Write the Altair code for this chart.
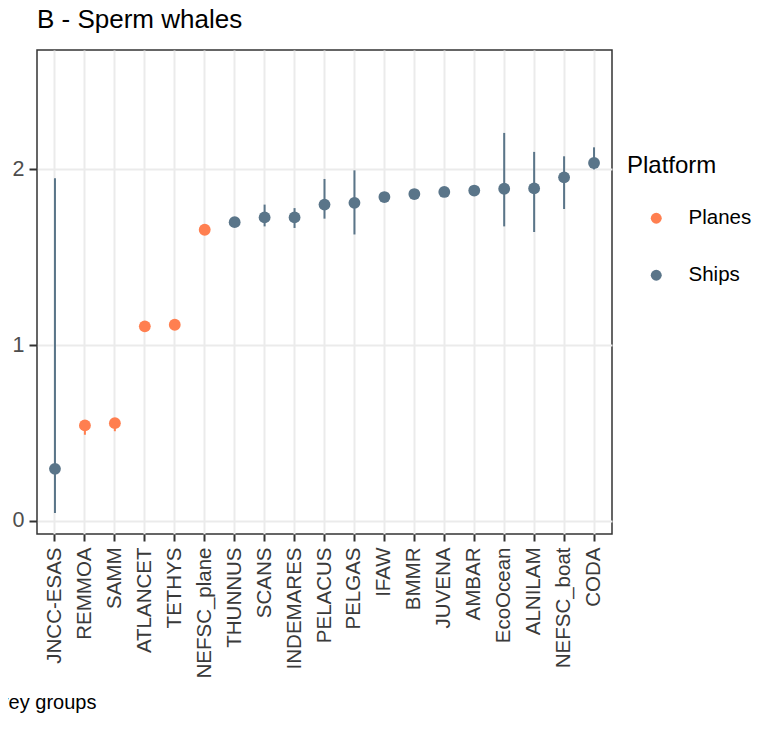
import altair as alt
import pandas as pd

groups = ["JNCC-ESAS", "REMMOA", "SAMM", "ATLANCET", "TETHYS", "NEFSC_plane",
          "THUNNUS", "SCANS", "INDEMARES", "PELACUS", "PELGAS", "IFAW", "BMMR",
          "JUVENA", "AMBAR", "EcoOcean", "ALNILAM", "NEFSC_boat", "CODA"]
platform = ["Ships", "Planes", "Planes", "Planes", "Planes", "Planes",
            "Ships", "Ships", "Ships", "Ships", "Ships", "Ships", "Ships",
            "Ships", "Ships", "Ships", "Ships", "Ships", "Ships"]
estimate = [0.296, 0.543, 0.556, 1.107, 1.116, 1.657,
            1.700, 1.727, 1.727, 1.800, 1.810, 1.843, 1.860,
            1.872, 1.880, 1.890, 1.892, 1.955, 2.037]
lower = [0.045, 0.490, 0.510, 1.095, 1.105, 1.645,
         1.690, 1.676, 1.667, 1.720, 1.630, 1.835, 1.850,
         1.862, 1.870, 1.676, 1.644, 1.775, 2.000]
upper = [1.950, 0.560, 0.575, 1.120, 1.128, 1.668,
         1.710, 1.800, 1.780, 1.946, 1.995, 1.852, 1.870,
         1.882, 1.890, 2.208, 2.100, 2.075, 2.126]

df = pd.DataFrame({"group": groups, "Platform": platform,
                   "estimate": estimate, "lower": lower, "upper": upper})

color = alt.Color(
    "Platform:N",
    scale=alt.Scale(domain=["Planes", "Ships"], range=["#FF7F50", "#5A7589"]),
    legend=alt.Legend(
        title="Platform", orient="none", legendX=590, legendY=104,
        titleFontSize=24, titleFontWeight="normal", titleColor="#000000",
        labelFontSize=20.5, labelColor="#000000",
        symbolType="circle", symbolSize=120, symbolStrokeWidth=0,
        symbolOffset=19, labelOffset=22, rowPadding=36, titlePadding=30,
    ),
)

x = alt.X(
    "group:N", sort=groups,
    scale=alt.Scale(paddingInner=0, paddingOuter=0.1),
    axis=alt.Axis(
        title="Survey groups", labelAngle=-90, labelAlign="right",
        labelBaseline="middle", labelFontSize=20.5, labelColor="#3A3A3A",
        labelPadding=6, tickSize=7, tickColor="#333333", tickWidth=2,
        grid=True, gridColor="#EBEBEB", gridWidth=2, domain=False,
        titleFontSize=20, titleFontWeight="normal", titleColor="#000000",
        titleX=-70, titleY=174, titleAlign="left", titleBaseline="alphabetic",
        titleAnchor="start",
    ),
)

y_scale = alt.Scale(domain=[-0.075, 2.68], nice=False, zero=False)
y_axis = alt.Axis(
    title=None, values=[0, 1, 2], labelFontSize=21.5, labelColor="#4D4D4D",
    labelPadding=5, tickSize=8, tickColor="#333333", tickWidth=2,
    grid=True, gridColor="#EBEBEB", gridWidth=2, domain=False,
)

base = alt.Chart(df)

rules = base.mark_rule(strokeWidth=2).encode(
    x=x,
    y=alt.Y("lower:Q", scale=y_scale, axis=y_axis),
    y2="upper:Q",
    color=color,
)

points = base.mark_point(filled=True, shape="circle", size=140, opacity=1).encode(
    x=x,
    y=alt.Y("estimate:Q", scale=y_scale, axis=y_axis),
    color=color,
)

chart = (
    alt.layer(rules, points)
    .properties(
        width=575, height=484,
        title=alt.TitleParams("B - Sperm whales", anchor="start", fontSize=26,
                              fontWeight="normal", color="#000000", offset=17,
                              frame="group"),
        autosize=alt.AutoSizeParams(type="none"),
        padding={"left": 29, "top": 42, "right": 153, "bottom": 182},
    )
    .configure(font="Liberation Sans")
    .configure_view(stroke="#333333", strokeWidth=1.5)
)

chart.save("out.html", embed_options={"renderer": "svg", "actions": False})
